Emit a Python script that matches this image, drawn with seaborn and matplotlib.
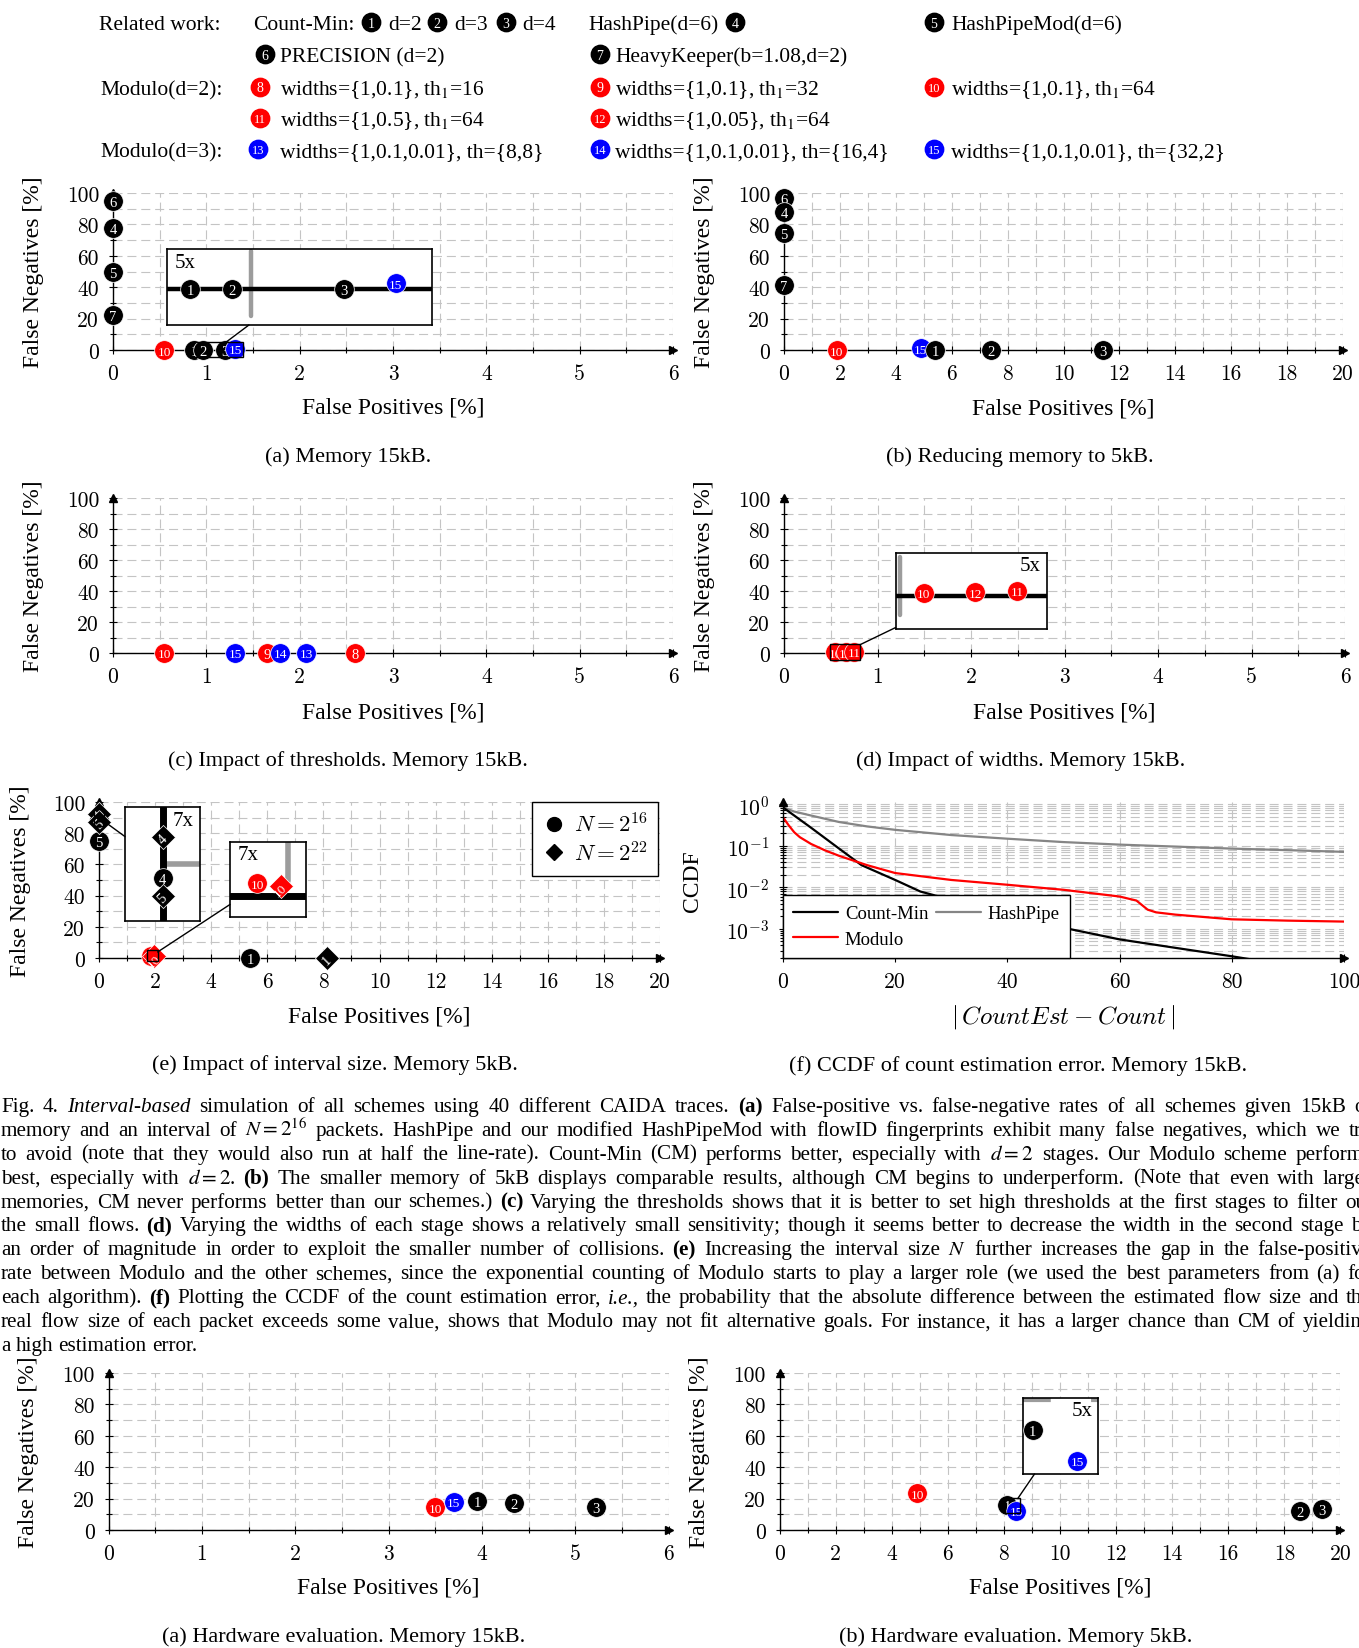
import numpy as np
import pandas as pd
import seaborn as sns
import matplotlib.pyplot as plt
from matplotlib.lines import Line2D
from matplotlib.patches import Rectangle
from matplotlib.ticker import (MultipleLocator, FuncFormatter, LogLocator,
                               NullFormatter, NullLocator)

W, H = 1359, 1649

# ---------------- data ----------------
# (a) simulation, memory 15kB
a_ids = [6, 4, 5, 7, 10, 1, 2, 3, 15]
a_fp = [0, 0, 0, 0, 0.55, 0.87, 0.96, 1.20, 1.31]
a_fn = [95, 78, 50, 22, 0, 0, 0, 0, 0.7]

# (b) reducing memory to 5kB
b_ids = [6, 4, 5, 7, 10, 15, 1, 2, 3]
b_fp = [0, 0, 0, 0, 1.89, 4.89, 5.42, 7.41, 11.4]
b_fn = [97, 88, 74.5, 41.6, 0, 1.2, 0, 0, 0]

# (c) impact of thresholds
c_ids = [10, 15, 9, 14, 13, 8]
c_fp = [0.55, 1.31, 1.65, 1.79, 2.07, 2.59]
c_fn = [0, 0, 0, 0, 0, 0]

# (d) impact of widths
d_ids = [10, 12, 11]
d_fp = [0.55, 0.66, 0.75]
d_fn = [0.4, 0.5, 0.7]

# (e) impact of interval size (circle: N=2^16, diamond: N=2^22)
e_ids = [5, 4, 1, 10, 4, 5, 1, 10]
e_interval = ["16", "16", "16", "16", "22", "22", "22", "22"]
e_fp = [0, 0, 5.38, 1.84, 0, 0, 8.14, 1.96]
e_fn = [75, 88.7, 0, 1.2, 92.5, 87.1, 0, 0.97]

# (f) CCDF of |CountEst - Count|
cm_err = [0, 5, 10, 14, 20, 24.5, 30, 40, 51, 60, 70, 80, 84]
cm_ccdf = [0.83, 0.27, 0.085, 0.034, 0.015, 0.0079, 0.005, 0.0022, 0.001,
           0.00056, 0.00035, 0.00022, 0.00018]
hp_err = [0, 2, 5, 10, 15, 20, 30, 40, 50, 60, 70, 80, 90, 100]
hp_ccdf = [0.83, 0.66, 0.53, 0.37, 0.29, 0.24, 0.18, 0.147, 0.122, 0.106,
           0.095, 0.085, 0.078, 0.071]
mod_err = [0, 1, 2, 3, 5, 7.5, 10, 15, 20, 30, 40, 50, 60, 63, 65, 66.5, 70,
           80, 90, 100]
mod_ccdf = [0.48, 0.31, 0.21, 0.16, 0.11, 0.077, 0.057, 0.034, 0.022, 0.015,
            0.0115, 0.0087, 0.006, 0.0048, 0.0029, 0.0025, 0.0022, 0.0017,
            0.00158, 0.0015]

# hardware evaluation
h1_ids = [10, 15, 1, 2, 3]
h1_fp = [3.50, 3.70, 3.95, 4.34, 5.22]
h1_fn = [14.5, 18.1, 18.7, 17.2, 14.5]
h2_ids = [10, 1, 15, 2, 3]
h2_fp = [4.91, 8.12, 8.44, 18.56, 19.35]
h2_fn = [23.4, 16.2, 12.4, 12.3, 13.4]

caption_lines = [
    "Fig. 4. *Interval-based* simulation of all schemes using 40 different CAIDA traces. **(a)** False-positive vs. false-negative rates of all schemes given 15kB of",
    "memory and an interval of $N=2^{16}$ packets. HashPipe and our modified HashPipeMod with flowID fingerprints exhibit many false negatives, which we try",
    "to avoid (note that they would also run at half the line-rate). Count-Min (CM) performs better, especially with $d=2$ stages. Our Modulo scheme performs",
    "best, especially with $d=2$. **(b)** The smaller memory of 5kB displays comparable results, although CM begins to underperform. (Note that even with larger",
    "memories, CM never performs better than our schemes.) **(c)** Varying the thresholds shows that it is better to set high thresholds at the first stages to filter out",
    "the small flows. **(d)** Varying the widths of each stage shows a relatively small sensitivity; though it seems better to decrease the width in the second stage by",
    "an order of magnitude in order to exploit the smaller number of collisions. **(e)** Increasing the interval size $N$ further increases the gap in the false-positive",
    "rate between Modulo and the other schemes, since the exponential counting of Modulo starts to play a larger role (we used the best parameters from (a) for",
    "each algorithm). **(f)** Plotting the CCDF of the count estimation error, *i.e.,* the probability that the absolute difference between the estimated flow size and the",
    "real flow size of each packet exceeds some value, shows that Modulo may not fit alternative goals. For instance, it has a larger chance than CM of yielding",
    "a high estimation error.",
]

# ---------------- style ----------------
sns.set_theme(style="ticks", rc={
    "text.color": "black", "axes.labelcolor": "black", "axes.edgecolor": "black",
    "xtick.color": "black", "ytick.color": "black",
})
plt.rcParams["font.family"] = ["Liberation Serif", "DejaVu Serif"]
plt.rcParams["mathtext.fontset"] = "cm"
plt.rcParams["lines.scale_dashes"] = False

RED, BLUE = "#ff0000", "#0000ff"
GRID_KW = dict(color="#c4c4c4", linewidth=0.8, linestyle=(0, (6.5, 3.5)))
GRID_GRAY = "#9c9c9c"


def scheme_color(i):
    if i <= 7:
        return "black"
    if i <= 12:
        return RED
    return BLUE


fig = plt.figure(figsize=(W / 100, H / 100), dpi=100)
fig.patch.set_facecolor("white")


def px_axes(x0, y0, x1, y1, **kw):
    return fig.add_axes([x0 / W, 1 - y1 / H, (x1 - x0) / W, (y1 - y0) / H], **kw)


def make_axes(box, xmax, xmajor, xminor, log=False):
    ax = px_axes(*box)
    num = FuncFormatter(lambda v, p: f"{v:g}")
    ax.set_xlim(0, xmax)
    ax.xaxis.set_major_locator(MultipleLocator(xmajor))
    if xminor:
        ax.xaxis.set_minor_locator(MultipleLocator(xminor))
    else:
        ax.xaxis.set_minor_locator(NullLocator())
    ax.xaxis.set_major_formatter(num)
    if log:
        ax.set_yscale("log")
        ax.set_ylim(2.0e-4, 1.12)
        ax.yaxis.set_major_locator(LogLocator(base=10, numticks=10))
        ax.yaxis.set_minor_locator(LogLocator(base=10, subs=np.arange(2, 10), numticks=30))
        ax.yaxis.set_minor_formatter(NullFormatter())
    else:
        ax.set_ylim(0, 100)
        ax.yaxis.set_major_locator(MultipleLocator(20))
        ax.yaxis.set_minor_locator(MultipleLocator(10))
        ax.yaxis.set_major_formatter(num)
    ax.set_facecolor("white")
    for side in ["top", "right"]:
        ax.spines[side].set_visible(False)
    for side in ["left", "bottom"]:
        ax.spines[side].set_color("black")
        ax.spines[side].set_linewidth(1.0)
    ax.set_axisbelow(True)
    ax.grid(True, which="both", **GRID_KW)
    ax.tick_params(which="both", direction="inout", bottom=True, left=True,
                   color="black", width=0.8, labelsize=15.5,
                   labelfontfamily="cmr10", pad=7)
    ax.tick_params(which="major", length=6)
    ax.tick_params(which="minor", length=4)
    ax.plot(1, 0, marker=">", color="black", ms=6, transform=ax.transAxes,
            clip_on=False, zorder=5)
    ax.plot(0, 1, marker="^", color="black", ms=6, transform=ax.transAxes,
            clip_on=False, zorder=5)
    return ax


def draw_points(ax, ids, xs, ys, markers=None, clip=False, z0=6):
    if markers is None:
        markers = ["o"] * len(ids)
    for k, (i, x, y, m) in enumerate(zip(ids, xs, ys, markers)):
        pt = pd.DataFrame({"fp": [x], "fn": [y]})
        sns.scatterplot(data=pt, x="fp", y="fn", ax=ax, color=scheme_color(i),
                        marker=m, s=150 if m == "D" else 200, edgecolor="white",
                        linewidth=0.5, clip_on=clip, zorder=z0 + 2 * k, legend=False)
        ax.text(x, y, str(i), color="white", fontsize=10.5 if i < 10 else 9.5,
                ha="center", va="center_baseline", rotation=45 if m == "D" else 0,
                zorder=z0 + 2 * k + 1, clip_on=clip)


def label_axes(ax, box, xl_y, yl_x, xlabel="False Positives [%]",
               ylabel="False Negatives [%]"):
    x0, y0, x1, y1 = box
    ax.set_xlabel(xlabel, fontsize=17)
    ax.xaxis.label.set_va("center")
    ax.xaxis.set_label_coords(0.5, (y1 - xl_y) / (y1 - y0))
    ax.set_ylabel(ylabel, fontsize=17)
    ax.yaxis.label.set_va("center")
    ax.yaxis.set_label_coords((yl_x - x0) / (x1 - x0), 0.5)


# overlay in pixel coordinates (top-down) for legend, captions, connectors
ov = fig.add_axes([0, 0, 1, 1], zorder=20)
ov.set_xlim(0, W)
ov.set_ylim(H, 0)
ov.axis("off")


def connect(ax, ins, xr, yr):
    p = ax.transData.transform([(xr[0], yr[0]), (xr[1], yr[1])])
    q = ins.transAxes.transform([(0, 0), (1, 1)])
    c1 = p.mean(axis=0)
    c2 = q.mean(axis=0)
    h1 = np.abs(p[1] - p[0]) / 2
    h2 = np.abs(q[1] - q[0]) / 2
    d = c2 - c1
    t1 = min(h1[0] / max(abs(d[0]), 1e-9), h1[1] / max(abs(d[1]), 1e-9))
    t2 = min(h2[0] / max(abs(d[0]), 1e-9), h2[1] / max(abs(d[1]), 1e-9))
    a = c1 + t1 * d
    b = c2 - t2 * d
    ov.plot([a[0], b[0]], [H - a[1], H - b[1]], color="black", lw=1.0)


def add_spy(ax, box, xr, yr, mag, mag_xy, mag_ha, ids, xs, ys, markers=None, bg=None):
    ins = px_axes(*box)
    ins.set_xlim(*xr)
    ins.set_ylim(*yr)
    ins.set_xticks([])
    ins.set_yticks([])
    ins.set_facecolor("white")
    ins.grid(False)
    for sp in ins.spines.values():
        sp.set_visible(True)
        sp.set_color("black")
        sp.set_linewidth(1.2)
    if bg:
        bg(ins, xr, yr)
    draw_points(ins, ids, xs, ys, markers, clip=True)
    ins.set_xlabel("")
    ins.set_ylabel("")
    ins.text(mag_xy[0], mag_xy[1], mag, transform=ins.transAxes, fontsize=15,
             ha=mag_ha, va="center")
    ax.add_patch(Rectangle((xr[0], yr[0]), xr[1] - xr[0], yr[1] - yr[0], fill=False,
                           ec="black", lw=1.0, zorder=40, clip_on=False))
    connect(ax, ins, xr, yr)
    return ins


# ---------------- panels ----------------
A_BOX = (113, 194, 673, 351)
B_BOX = (784, 194, 1343, 351)
C_BOX = (113, 499, 673, 654)
D_BOX = (784, 499, 1345, 654)
E_BOX = (99, 803, 660, 959)
F_BOX = (783, 803, 1344, 959)
H1_BOX = (108.5, 1374, 668.5, 1531)
H2_BOX = (779.6, 1374, 1340.4, 1531)

# (a)
ax_a = make_axes(A_BOX, 6, 1, 0.5)
draw_points(ax_a, a_ids, a_fp, a_fn)
label_axes(ax_a, A_BOX, 408, 34)


def bg_a(ins, xr, yr):
    ins.axvline(1, ymin=0.12, ymax=0.97, color=GRID_GRAY, lw=3.2, zorder=1)
    ins.axhline(0, color="black", lw=3.2, zorder=2)


add_spy(ax_a, (167, 250, 432, 326), (0.82, 1.388), (-4.64, 5.04), "5x",
        (0.03, 0.82), "left", a_ids, a_fp, a_fn, bg=bg_a)

# (b)
ax_b = make_axes(B_BOX, 20, 2, 1)
draw_points(ax_b, b_ids, b_fp, b_fn)
label_axes(ax_b, B_BOX, 409, 704.5)

# (c)
ax_c = make_axes(C_BOX, 6, 1, 0.5)
draw_points(ax_c, c_ids, c_fp, c_fn)
label_axes(ax_c, C_BOX, 712.7, 34)

# (d)
ax_d = make_axes(D_BOX, 6, 1, 0.5)
draw_points(ax_d, d_ids, d_fp, d_fn)
label_axes(ax_d, D_BOX, 712.7, 704.5)


def bg_d(ins, xr, yr):
    ins.axvline(0.5, ymin=0.18, ymax=0.95, color=GRID_GRAY, lw=3.2, zorder=1)
    ins.axhline(0, color="black", lw=3.2, zorder=2)


add_spy(ax_d, (895.6, 554, 1047, 630), (0.49, 0.814), (-4.25, 5.55), "5x",
        (0.96, 0.83), "right", d_ids, d_fp, d_fn, bg=bg_d)

# (e)
e_markers = ["o" if n == "16" else "D" for n in e_interval]
ax_e = make_axes(E_BOX, 20, 2, 1)
draw_points(ax_e, e_ids, e_fp, e_fn, e_markers)
label_axes(ax_e, E_BOX, 1016.7, 20.5)
leg_e = ax_e.legend(
    handles=[Line2D([], [], ls="", marker="o", color="black", ms=10),
             Line2D([], [], ls="", marker="D", color="black", ms=8)],
    labels=[r"$N=2^{16}$", r"$N=2^{22}$"], loc="upper right",
    bbox_to_anchor=((658 - E_BOX[0]) / (E_BOX[2] - E_BOX[0]), 1.0),
    borderaxespad=0, frameon=True, fancybox=False, edgecolor="black",
    framealpha=1, fontsize=16.5, handlelength=1.0, handletextpad=0.35,
    borderpad=0.45, labelspacing=0.2)
leg_e.get_frame().set_linewidth(1.0)
leg_e.set_zorder(50)


def bg_e1(ins, xr, yr):
    ins.hlines(90, 0, xr[1], color=GRID_GRAY, lw=4, zorder=1)
    ins.axvline(0, color="black", lw=5, zorder=2)


def bg_e2(ins, xr, yr):
    ins.axvline(2, ymin=0.48, ymax=1.0, color=GRID_GRAY, lw=4, zorder=1)
    ins.axhline(0, color="black", lw=5, zorder=2)


add_spy(ax_e, (125, 808, 200, 922), (-0.19, 0.19), (84.8, 95.2), "7x",
        (0.92, 0.88), "right", e_ids, e_fp, e_fn, e_markers, bg=bg_e1)
add_spy(ax_e, (230, 843, 306, 918), (1.70, 2.09), (-1.89, 4.97), "7x",
        (0.1, 0.83), "left", e_ids, e_fp, e_fn, e_markers, bg=bg_e2)

# (f) CCDF
ccdf = pd.concat([
    pd.DataFrame({"err": hp_err, "ccdf": hp_ccdf, "scheme": "HashPipe"}),
    pd.DataFrame({"err": cm_err, "ccdf": cm_ccdf, "scheme": "Count-Min"}),
    pd.DataFrame({"err": mod_err, "ccdf": mod_ccdf, "scheme": "Modulo"}),
])
pal = {"Count-Min": "black", "HashPipe": "#858585", "Modulo": RED}
ax_f = make_axes(F_BOX, 100, 20, None, log=True)
sns.lineplot(data=ccdf, x="err", y="ccdf", hue="scheme", palette=pal,
             hue_order=["HashPipe", "Count-Min", "Modulo"], estimator=None,
             lw=1.6, legend=False, ax=ax_f)
ax_f.set_xlim(0, 100)
ax_f.set_ylim(2.0e-4, 1.12)
label_axes(ax_f, F_BOX, 1016.7, 693, xlabel=r"$|\,CountEst - Count\,|$", ylabel="CCDF")
ax_f.xaxis.label.set_fontsize(18)
leg_f = ax_f.legend(
    handles=[Line2D([], [], color=pal["Count-Min"], lw=1.6),
             Line2D([], [], color=pal["Modulo"], lw=1.6),
             Line2D([], [], color=pal["HashPipe"], lw=1.6)],
    labels=["Count-Min", "Modulo", "HashPipe"], ncol=2, loc="lower left",
    bbox_to_anchor=(0, 0), borderaxespad=0, frameon=True, fancybox=False,
    edgecolor="black", framealpha=1, fontsize=13.5, handlelength=2.4,
    handletextpad=0.35, columnspacing=0.4, borderpad=0.55, labelspacing=0.45)
leg_f.get_frame().set_linewidth(1.0)

# hardware (a)
ax_h1 = make_axes(H1_BOX, 6, 1, 0.5)
draw_points(ax_h1, h1_ids, h1_fp, h1_fn)
label_axes(ax_h1, H1_BOX, 1588, 29)

# hardware (b)
ax_h2 = make_axes(H2_BOX, 20, 2, 1)
draw_points(ax_h2, h2_ids, h2_fp, h2_fn)
label_axes(ax_h2, H2_BOX, 1588, 700)


def bg_h2(ins, xr, yr):
    ins.hlines(20, xr[0], xr[1], color=GRID_GRAY, lw=3, ls=(0, (20, 29)), zorder=1)


add_spy(ax_h2, (1023, 1399, 1098, 1475), (8.05, 8.59), (10.7, 20.3), "5x",
        (0.93, 0.84), "right", h2_ids, h2_fp, h2_fn, bg=bg_h2)

# ---------------- sub-captions ----------------
sub_caps = [
    (348, 457, "(a) Memory 15kB."),
    (1020, 457, "(b) Reducing memory to 5kB."),
    (348, 761, "(c) Impact of thresholds. Memory 15kB."),
    (1021, 761, "(d) Impact of widths. Memory 15kB."),
    (335, 1065, "(e) Impact of interval size. Memory 5kB."),
    (1018, 1066, "(f) CCDF of count estimation error. Memory 15kB."),
    (344, 1637, "(a) Hardware evaluation. Memory 15kB."),
    (1016, 1637, "(b) Hardware evaluation. Memory 5kB."),
]
for x, y, s in sub_caps:
    ov.text(x, y, s, fontsize=16, ha="center", va="center")

# ---------------- scheme legend at the top ----------------
row_base = [30, 62, 95, 126, 157]
legend_items = [
    (0, "t", 99, "Related work:"), (0, "t", 253, "Count-Min:"),
    (0, "m", 371, 1), (0, "t", 388, "d=2"), (0, "m", 437, 2), (0, "t", 454, "d=3"),
    (0, "m", 506, 3), (0, "t", 522, "d=4"), (0, "t", 588, "HashPipe(d=6)"),
    (0, "m", 735, 4), (0, "m", 934, 5), (0, "t", 951, "HashPipeMod(d=6)"),
    (1, "m", 265, 6), (1, "t", 280, "PRECISION (d=2)"),
    (1, "m", 600, 7), (1, "t", 615, "HeavyKeeper(b=1.08,d=2)"),
    (2, "t", 100, "Modulo(d=2):"),
    (2, "m", 260, 8), (2, "t", 280, "widths={1,0.1}, th$_1$=16"),
    (2, "m", 600, 9), (2, "t", 615, "widths={1,0.1}, th$_1$=32"),
    (2, "m", 934, 10), (2, "t", 951, "widths={1,0.1}, th$_1$=64"),
    (3, "m", 260, 11), (3, "t", 280, "widths={1,0.5}, th$_1$=64"),
    (3, "m", 600, 12), (3, "t", 615, "widths={1,0.05}, th$_1$=64"),
    (4, "t", 100, "Modulo(d=3):"),
    (4, "m", 258, 13), (4, "t", 280, "widths={1,0.1,0.01}, th={8,8}"),
    (4, "m", 600, 14), (4, "t", 615, "widths={1,0.1,0.01}, th={16,4}"),
    (4, "m", 934, 15), (4, "t", 951, "widths={1,0.1,0.01}, th={32,2}"),
]
for row, kind, x, val in legend_items:
    yb = row_base[row]
    if kind == "t":
        ov.text(x, yb, val, fontsize=15.5, ha="left", va="baseline",
                math_fontfamily="stix")
    else:
        ov.scatter([x], [yb - 7.5], s=175, color=scheme_color(val), clip_on=False,
                   zorder=3)
        ov.text(x, yb - 7.5, str(val), color="white", fontsize=10 if val < 10 else 9,
                ha="center", va="center_baseline", zorder=4)

# ---------------- figure caption (justified) ----------------
rend = fig.canvas.get_renderer()
cap_fs, cap_x0, cap_right, cap_base, cap_step = 15.2, 1, 1372, 1112, 23.9
for k, line in enumerate(caption_lines):
    arts = []
    for tok in line.split():
        kw = {}
        if tok.startswith("**"):
            tok = tok.strip("*")
            kw["fontweight"] = "bold"
        elif tok.startswith("*"):
            tok = tok.strip("*")
            kw["fontstyle"] = "italic"
        arts.append(ov.text(cap_x0, cap_base + k * cap_step, tok, fontsize=cap_fs,
                            ha="left", va="baseline", math_fontfamily="stix", **kw))
    widths = [a.get_window_extent(rend).width for a in arts]
    if k == len(caption_lines) - 1:
        gap = 0.25 * cap_fs * 100 / 72
    else:
        gap = max((cap_right - cap_x0 - sum(widths)) / (len(arts) - 1), 2.0)
    x = cap_x0
    for a, w in zip(arts, widths):
        a.set_x(x)
        x += w + gap

fig.savefig("out.png", dpi=100, facecolor="white")
